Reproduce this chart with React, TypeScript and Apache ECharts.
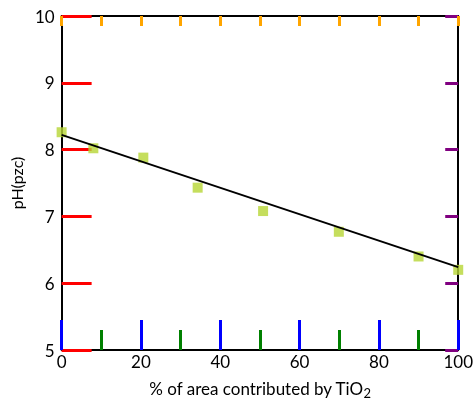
import React, { useEffect, useRef } from "react";
import * as echarts from "echarts";

const xValues = [0, 8, 20.6, 34.3, 50.8, 69.9, 90, 100];
const phValues = [8.26, 8.02, 7.88, 7.43, 7.08, 6.77, 6.4, 6.2];
const fitLine = [
  [0, 8.22],
  [100, 6.24],
];
const xTickLabels = ["0", "20", "40", "60", "80", "100"];
const FONT = "Lato, 'DejaVu Sans', sans-serif";

export default function App() {
  const ref = useRef<HTMLDivElement>(null);
  useEffect(() => {
    const chart = echarts.init(ref.current!, null, { renderer: "svg" });
    chart.setOption({
      animation: false,
      grid: { left: 57, right: 14, top: 16, bottom: 47 },
      xAxis: [
        {
          type: "value", min: 0, max: 100, interval: 20, position: "bottom",
          axisLine: { show: true, onZero: false, lineStyle: { color: "#000", width: 2 } },
          axisTick: { show: true, inside: true, length: 30, lineStyle: { color: "blue", width: 3 } },
          minorTick: { show: true, splitNumber: 2, length: 20, lineStyle: { color: "green", width: 3 } },
          splitLine: { show: false },
          axisLabel: {
            color: "#000", fontFamily: FONT, fontSize: 17, margin: 3,
            formatter: (v: number) => (xTickLabels.includes(String(v)) ? String(v) : ""),
          },
          name: "% of area contributed by TiO{sub|2}",
          nameLocation: "middle",
          nameGap: 28,
          nameTextStyle: {
            color: "#000", fontFamily: FONT, fontSize: 17,
            rich: { sub: { fontSize: 13, fontFamily: FONT, color: "#000", padding: [8, 0, 0, 0] } },
          },
        },
        {
          type: "value", min: 0, max: 100, interval: 10, position: "top",
          axisLine: { show: true, onZero: false, lineStyle: { color: "#000", width: 2 } },
          axisTick: { show: true, inside: true, length: 10, lineStyle: { color: "orange", width: 3 } },
          axisLabel: { show: false },
          splitLine: { show: false },
        },
      ],
      yAxis: [
        {
          type: "value", min: 5, max: 10, interval: 1, position: "left",
          axisLine: { show: true, onZero: false, lineStyle: { color: "#000", width: 2 } },
          axisTick: { show: true, inside: true, length: 30, lineStyle: { color: "red", width: 3 } },
          splitLine: { show: false },
          axisLabel: { color: "#000", fontFamily: FONT, fontSize: 17, margin: 7 },
          name: "pH(pzc)",
          nameLocation: "middle",
          nameGap: 36,
          nameRotate: 90,
          nameTextStyle: { color: "#000", fontFamily: FONT, fontSize: 16 },
        },
        {
          type: "value", min: 5, max: 10, interval: 1, position: "right",
          axisLine: { show: true, onZero: false, lineStyle: { color: "#000", width: 2 } },
          axisTick: { show: true, inside: true, length: 13, lineStyle: { color: "purple", width: 3 } },
          axisLabel: { show: false },
          splitLine: { show: false },
        },
      ],
      series: [
        { type: "line", data: fitLine, symbol: "none", lineStyle: { color: "#000", width: 2 } },
        { type: "scatter", data: xValues.map((x, i) => [x, phValues[i]]), symbol: "rect" },
      ],
    });
    return () => chart.dispose();
  }, []);
  return <div ref={ref} style={{ position: "fixed", left: 0, top: 0, width: 476, height: 404 }} />;
}
